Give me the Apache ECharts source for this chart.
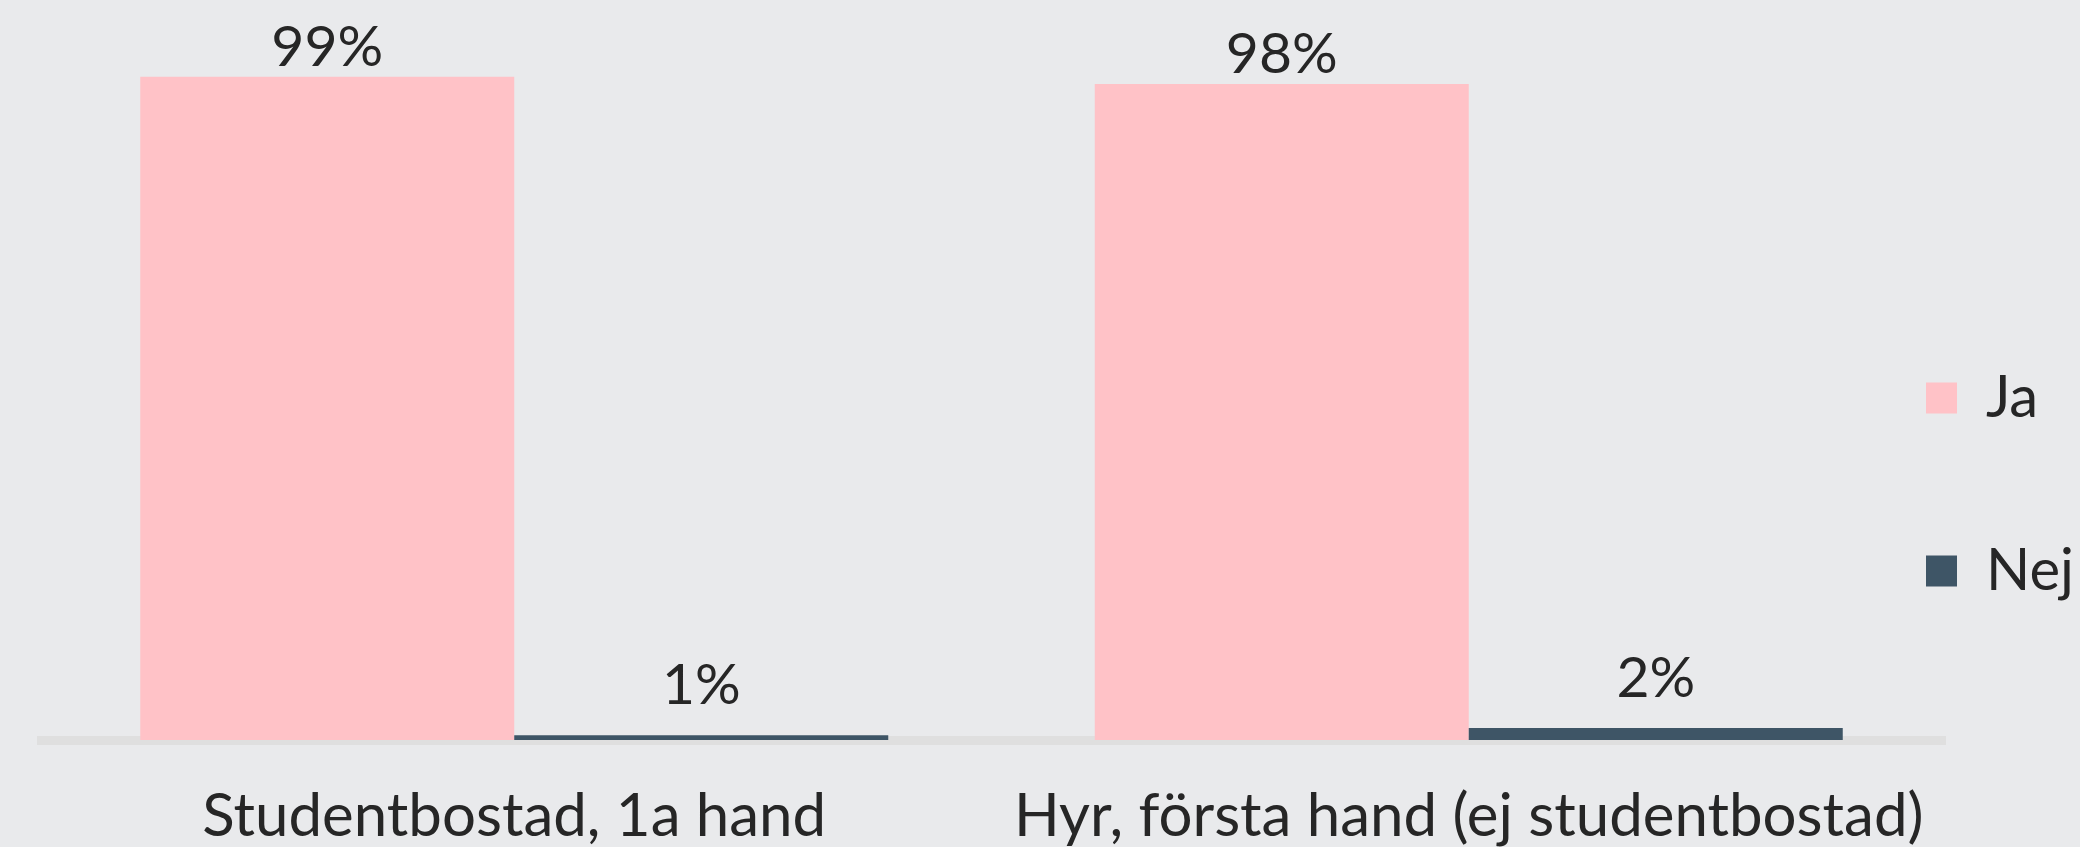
<!DOCTYPE html>
<html>
<head>
<meta charset="utf-8">
<script src="https://cdn.jsdelivr.net/npm/echarts@6/dist/echarts.min.js"></script>
<style>
  html, body { margin: 0; padding: 0; background: #e9eaec; }
  #chart { width: 2080px; height: 847px; }
</style>
</head>
<body>
<div id="chart"></div>
<script>
// boende - andel ja / nej per boendeform
const categories = ['Studentbostad, 1a hand', 'Hyr, första hand (ej studentbostad)'];
const seriesNames = ['Ja', 'Nej'];
const jaValues = [99.3, 98.2];
const nejValues = [0.7, 1.8];

const textColor = '#262626';
const fontFamily = 'Lato';

const myChart = echarts.init(document.getElementById('chart'));
myChart.setOption({
    backgroundColor: '#e9eaec',
    animation: false,
    textStyle: { fontFamily: fontFamily, color: textColor },
    legend: {
        data: seriesNames,
        orient: 'vertical',
        left: 1926,
        top: 369,
        padding: 0,
        itemWidth: 31,
        itemHeight: 31,
        itemGap: 115,
        icon: 'rect',
        textStyle: {
            fontSize: 58,
            lineHeight: 31,
            color: textColor,
            fontFamily: fontFamily,
            padding: [0, 0, 0, 24]
        }
    },
    grid: {
        left: 37,
        right: 134,
        top: 72,
        bottom: 107,
        containLabel: false
    },
    xAxis: {
        type: 'category',
        data: categories,
        offset: 4,
        axisLine: { show: true, lineStyle: { color: '#dfdfdf', width: 9, cap: 'butt' } },
        axisTick: { show: false },
        axisLabel: {
            interval: 0,
            fontSize: 60,
            color: textColor,
            fontFamily: fontFamily,
            margin: 43
        }
    },
    yAxis: {
        type: 'value',
        min: 0,
        max: 100,
        show: false,
        splitLine: { show: false }
    },
    series: [
        {
            name: 'Ja',
            type: 'bar',
            data: jaValues,
            barWidth: 374,
            barGap: '0%',
            itemStyle: { color: '#ffc2c7' },
            label: {
                show: true,
                position: 'top',
                distance: 1,
                fontSize: 57,
                color: textColor,
                fontFamily: fontFamily,
                formatter: function (p) { return Math.round(p.value) + '%'; }
            }
        },
        {
            name: 'Nej',
            type: 'bar',
            data: nejValues,
            barWidth: 374,
            barGap: '0%',
            itemStyle: { color: '#3e5566' },
            label: {
                show: true,
                position: 'top',
                distance: 21,
                fontSize: 57,
                color: textColor,
                fontFamily: fontFamily,
                formatter: function (p) { return Math.round(p.value) + '%'; }
            }
        }
    ]
});
</script>
</body>
</html>
